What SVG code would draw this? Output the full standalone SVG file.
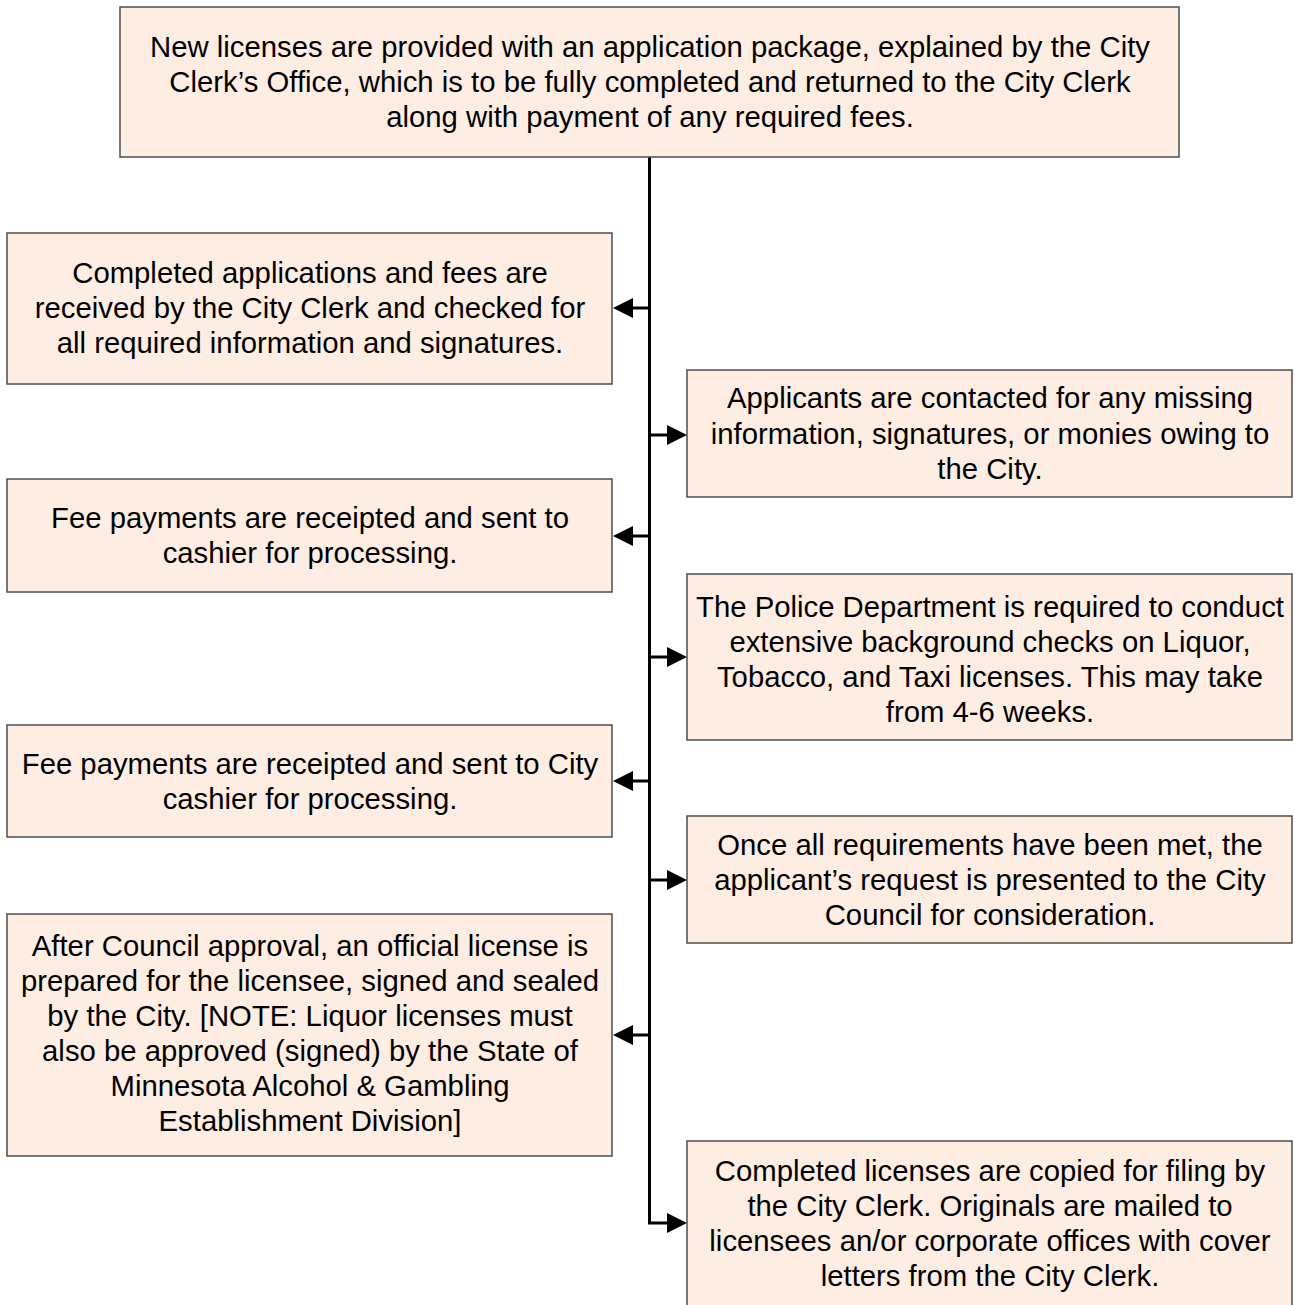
<svg xmlns="http://www.w3.org/2000/svg" width="1295" height="1305" viewBox="0 0 1295 1305">
<style>
.box{fill:#fdede3;stroke:#4d4d4d;stroke-width:1.5}
.t{font-family:"Liberation Sans",Arial,sans-serif;font-size:29.3px;fill:#000;text-anchor:middle}
.ln{stroke:#000;stroke-width:3;fill:none}
</style>
<rect width="1295" height="1305" fill="#fff"/>
<g id="connectors">
<path class="ln" d="M649.5,157 V1223 H668"/>
<line class="ln" x1="649.5" y1="308" x2="632" y2="308"/>
<line class="ln" x1="649.5" y1="435" x2="668" y2="435"/>
<line class="ln" x1="649.5" y1="536" x2="632" y2="536"/>
<line class="ln" x1="649.5" y1="657" x2="668" y2="657"/>
<line class="ln" x1="649.5" y1="781" x2="632" y2="781"/>
<line class="ln" x1="649.5" y1="880" x2="668" y2="880"/>
<line class="ln" x1="649.5" y1="1035" x2="632" y2="1035"/>
<path d="M613,308 L633,298 L633,318 Z"/>
<path d="M687,435 L667,425 L667,445 Z"/>
<path d="M613,536 L633,526 L633,546 Z"/>
<path d="M687,657 L667,647 L667,667 Z"/>
<path d="M613,781 L633,771 L633,791 Z"/>
<path d="M687,880 L667,870 L667,890 Z"/>
<path d="M613,1035 L633,1025 L633,1045 Z"/>
<path d="M687,1223 L667,1213 L667,1233 Z"/>
</g>
<g id="n0">
<rect class="box" x="120" y="7" width="1059" height="150"/>
<text class="t"><tspan x="650" y="57">New licenses are provided with an application package, explained by the City</tspan><tspan x="650" y="92">Clerk’s Office, which is to be fully completed and returned to the City Clerk</tspan><tspan x="650" y="127">along with payment of any required fees.</tspan></text>
</g>
<g id="n1">
<rect class="box" x="7" y="233" width="605" height="151"/>
<text class="t"><tspan x="310" y="283">Completed applications and fees are</tspan><tspan x="310" y="318">received by the City Clerk and checked for</tspan><tspan x="310" y="353">all required information and signatures.</tspan></text>
</g>
<g id="n2">
<rect class="box" x="687" y="370" width="605" height="127"/>
<text class="t"><tspan x="990" y="408">Applicants are contacted for any missing</tspan><tspan x="990" y="444">information, signatures, or monies owing to</tspan><tspan x="990" y="479">the City.</tspan></text>
</g>
<g id="n3">
<rect class="box" x="7" y="479" width="605" height="113"/>
<text class="t"><tspan x="310" y="528">Fee payments are receipted and sent to</tspan><tspan x="310" y="563">cashier for processing.</tspan></text>
</g>
<g id="n4">
<rect class="box" x="687" y="574" width="605" height="166"/>
<text class="t"><tspan x="990" y="617">The Police Department is required to conduct</tspan><tspan x="990" y="652">extensive background checks on Liquor,</tspan><tspan x="990" y="687">Tobacco, and Taxi licenses. This may take</tspan><tspan x="990" y="722">from 4-6 weeks.</tspan></text>
</g>
<g id="n5">
<rect class="box" x="7" y="725" width="605" height="112"/>
<text class="t"><tspan x="310" y="774">Fee payments are receipted and sent to City</tspan><tspan x="310" y="809">cashier for processing.</tspan></text>
</g>
<g id="n6">
<rect class="box" x="687" y="816" width="605" height="127"/>
<text class="t"><tspan x="990" y="855">Once all requirements have been met, the</tspan><tspan x="990" y="890">applicant’s request is presented to the City</tspan><tspan x="990" y="925">Council for consideration.</tspan></text>
</g>
<g id="n7">
<rect class="box" x="7" y="914" width="605" height="242"/>
<text class="t"><tspan x="310" y="956">After Council approval, an official license is</tspan><tspan x="310" y="991">prepared for the licensee, signed and sealed</tspan><tspan x="310" y="1026">by the City. [NOTE: Liquor licenses must</tspan><tspan x="310" y="1061">also be approved (signed) by the State of</tspan><tspan x="310" y="1096">Minnesota Alcohol &amp; Gambling</tspan><tspan x="310" y="1131">Establishment Division]</tspan></text>
</g>
<g id="n8">
<rect class="box" x="687" y="1141" width="605" height="175"/>
<text class="t"><tspan x="990" y="1181">Completed licenses are copied for filing by</tspan><tspan x="990" y="1216">the City Clerk. Originals are mailed to</tspan><tspan x="990" y="1251">licensees an/or corporate offices with cover</tspan><tspan x="990" y="1286">letters from the City Clerk.</tspan></text>
</g>
</svg>
